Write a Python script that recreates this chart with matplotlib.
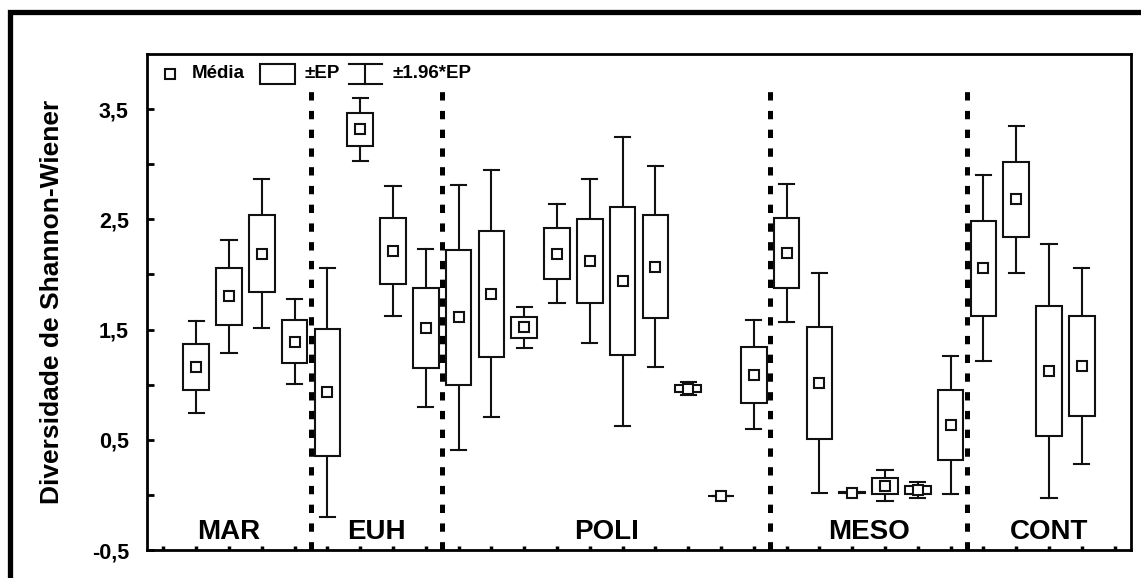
import numpy as np
import matplotlib
matplotlib.use('Agg')
import matplotlib.pyplot as plt
from matplotlib.patches import Rectangle
from matplotlib.lines import Line2D

plt.rcParams['font.family'] = ['Liberation Sans', 'DejaVu Sans']
plt.rcParams['font.weight'] = 'bold'
plt.rcParams['lines.scale_dashes'] = False

# groups along the x axis (number of slots in each)
groups = ['MAR', 'EUH', 'POLI', 'MESO', 'CONT']
group_sizes = [5, 4, 10, 6, 5]

# mean and standard error per slot (nan = empty slot)
media = [np.nan, 1.16, 1.80, 2.19, 1.39,
         0.93, 3.315, 2.21, 1.515,
         1.61, 1.825, 1.52, 2.19, 2.125, 1.94, 2.07, 0.965, -0.01, 1.09,
         2.195, 1.015, 0.02, 0.084, 0.045, 0.633,
         2.055, 2.68, 1.124, 1.17, np.nan]
ep = [np.nan, 0.212, 0.26, 0.345, 0.196,
      0.578, 0.147, 0.30, 0.365,
      0.615, 0.572, 0.096, 0.231, 0.38, 0.669, 0.466, 0.028, 0.002, 0.252,
      0.318, 0.511, 0.003, 0.072, 0.035, 0.32,
      0.43, 0.342, 0.59, 0.452, np.nan]

media = np.array(media)
ep = np.array(ep)
x = np.arange(1, len(media) + 1)

fig = plt.figure(figsize=(11.41, 5.78), dpi=100)
ax = fig.add_axes([0.1288, 0.0484, 0.8624, 0.8582])

box_w = 0.78
cap_w = 0.46
col = '#111111'
for xi, m, e in zip(x, media, ep):
    if np.isnan(m):
        continue
    lo, hi = m - 1.96 * e, m + 1.96 * e
    ax.plot([xi, xi], [m + e, hi], color=col, lw=1.5, zorder=2)
    ax.plot([xi, xi], [lo, m - e], color=col, lw=1.5, zorder=2)
    ax.plot([xi - cap_w / 2, xi + cap_w / 2], [hi, hi], color=col, lw=1.5, zorder=2)
    ax.plot([xi - cap_w / 2, xi + cap_w / 2], [lo, lo], color=col, lw=1.5, zorder=2)
    ax.add_patch(Rectangle((xi - box_w / 2, m - e), box_w, 2 * e,
                           facecolor='white', edgecolor=col, lw=1.5, zorder=3))
ax.plot(x, media, 's', ms=7.5, mfc='white', mec=col, mew=1.5, ls='none', zorder=4)

# group separators and labels
edges = np.cumsum(group_sizes)
for b in edges[:-1]:
    ax.plot([b + 0.5, b + 0.5], [-0.5, 3.7], color='black', lw=3.6,
            dashes=(6, 7.5), zorder=5)
starts = np.concatenate([[0], edges[:-1]])
for g, s, n in zip(groups, starts, group_sizes):
    ax.text(s + (n + 1) / 2, -0.455, g, ha='center', va='bottom',
            fontsize=20, fontweight='bold')

ax.set_xlim(0.5, len(media) + 0.5)
ax.set_ylim(-0.5, 4.0)
ax.set_xticks(x)
ax.set_xticklabels([])
ax.set_yticks([-0.5, 0.5, 1.5, 2.5, 3.5])
ax.set_yticklabels(['-0,5', '0,5', '1,5', '2,5', '3,5'])
ax.set_yticks([0, 1, 2, 3], minor=True)
ax.tick_params(axis='both', which='both', direction='in', length=5, width=2,
               labelsize=15.5, pad=13)
ax.tick_params(axis='x', length=3, width=2.5)
for s in ax.spines.values():
    s.set_linewidth(2)
ax.set_ylabel('Diversidade de Shannon-Wiener', fontsize=19, fontweight='bold',
              labelpad=20)

# legend drawn in axes coordinates
t = ax.transAxes
ly = 0.960
ax.plot([0.0234], [ly], 's', ms=7.5, mfc='white', mec=col, mew=1.5, transform=t)
ax.text(0.0457, ly, 'Média', transform=t, va='center', fontsize=13.5)
ax.add_patch(Rectangle((0.1148, ly - 0.02), 0.0356, 0.04, transform=t,
                       facecolor='white', edgecolor=col, lw=1.5))
ax.text(0.1606, ly, '±EP', transform=t, va='center', fontsize=13.5)
for yy in (ly + 0.02, ly - 0.02):
    ax.add_line(Line2D([0.2053, 0.2388], [yy, yy], transform=t, color=col, lw=1.5))
ax.add_line(Line2D([0.222, 0.222], [ly - 0.02, ly + 0.02], transform=t, color=col, lw=1.5))
ax.text(0.25, ly, '±1.96*EP', transform=t, va='center', fontsize=13.5)

# thick outer frame (only top and left visible in the crop)
fig.patches.append(Rectangle((0.0092, -0.05), 1.2, 0.979 + 0.05,
                             transform=fig.transFigure, fill=False,
                             edgecolor='black', lw=3.8))

fig.savefig('out.png', dpi=100)
